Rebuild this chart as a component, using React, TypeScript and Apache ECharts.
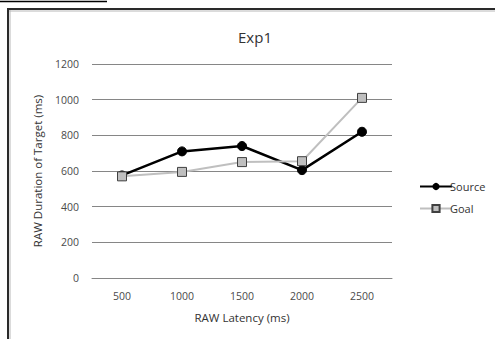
import React, { useEffect, useRef } from "react";
import * as echarts from "echarts";

const latencies = ["500", "1000", "1500", "2000", "2500"];
const sourceValues = [575, 710, 740, 605, 820];
const goalValues = [570, 595, 650, 655, 1010];

const FONT = "'Open Sans', 'Noto Sans', sans-serif";

export default function App() {
  const ref = useRef<HTMLDivElement>(null);

  useEffect(() => {
    if (!ref.current) return;
    const chart = echarts.init(ref.current, undefined, { renderer: "svg" });
    chart.setOption({
      animation: false,
      backgroundColor: "#ffffff",
      title: {
        text: "Exp1",
        left: 250,
        top: 24,
        textAlign: "center",
        textStyle: { fontFamily: FONT, fontSize: 15, fontWeight: "normal", color: "#333333" },
      },
      graphic: [
        { type: "line", shape: { x1: 0, y1: 1.5, x2: 107, y2: 1.5 }, style: { stroke: "#000", lineWidth: 1.5 } },
        { type: "line", shape: { x1: 8, y1: 9, x2: 495, y2: 9 }, style: { stroke: "#2a2a2a", lineWidth: 2 } },
        { type: "line", shape: { x1: 9, y1: 11, x2: 495, y2: 11 }, style: { stroke: "#b8b8b8", lineWidth: 1 } },
        { type: "line", shape: { x1: 8, y1: 8, x2: 8, y2: 339 }, style: { stroke: "#2a2a2a", lineWidth: 2 } },
        { type: "line", shape: { x1: 10, y1: 10, x2: 10, y2: 339 }, style: { stroke: "#b8b8b8", lineWidth: 1 } },
      ],
      legend: {
        orient: "vertical",
        left: 414,
        top: 176,
        itemGap: 11,
        itemWidth: 32,
        itemHeight: 9,
        textStyle: { fontFamily: FONT, fontSize: 11, color: "#333333", padding: [0, 0, 0, -7] },
        data: ["Source", "Goal"],
      },
      grid: { left: 92, right: 103, top: 64, bottom: 61 },
      xAxis: {
        type: "category",
        data: latencies,
        boundaryGap: true,
        name: "RAW Latency (ms)",
        nameLocation: "middle",
        nameGap: 33,
        nameTextStyle: { fontFamily: FONT, fontSize: 11.5, color: "#333333" },
        axisLine: { lineStyle: { color: "#868686", width: 1 } },
        axisTick: { show: false },
        axisLabel: { fontFamily: FONT, fontSize: 10.5, color: "#4a4a4a", margin: 12 },
      },
      yAxis: {
        type: "value",
        min: 0,
        max: 1200,
        interval: 200,
        name: "RAW Duration of Target (ms)",
        nameLocation: "middle",
        nameGap: 49,
        nameTextStyle: { fontFamily: FONT, fontSize: 11.5, color: "#333333" },
        axisLine: { show: false },
        axisTick: { show: false },
        axisLabel: {
          fontFamily: FONT,
          fontSize: 10.5,
          color: "#4a4a4a",
          margin: 13,
          formatter: (v: number) => String(v),
        },
        splitLine: { lineStyle: { color: "#868686", width: 1 } },
      },
      series: [
        {
          name: "Source",
          type: "line",
          data: sourceValues,
          symbol: "circle",
          symbolSize: 9,
          lineStyle: { color: "#000000", width: 2.5 },
          itemStyle: { color: "#000000", borderColor: "#000000" },
          z: 2,
        },
        {
          name: "Goal",
          type: "line",
          data: goalValues,
          symbol: "rect",
          symbolSize: 9,
          lineStyle: { color: "#bfbfbf", width: 2 },
          itemStyle: { color: "#bfbfbf", borderColor: "#404040", borderWidth: 1 },
          z: 3,
        },
      ],
    });
    return () => chart.dispose();
  }, []);

  return (
    <div
      ref={ref}
      style={{ position: "fixed", left: 0, top: 0, width: 495, height: 339 }}
    />
  );
}
